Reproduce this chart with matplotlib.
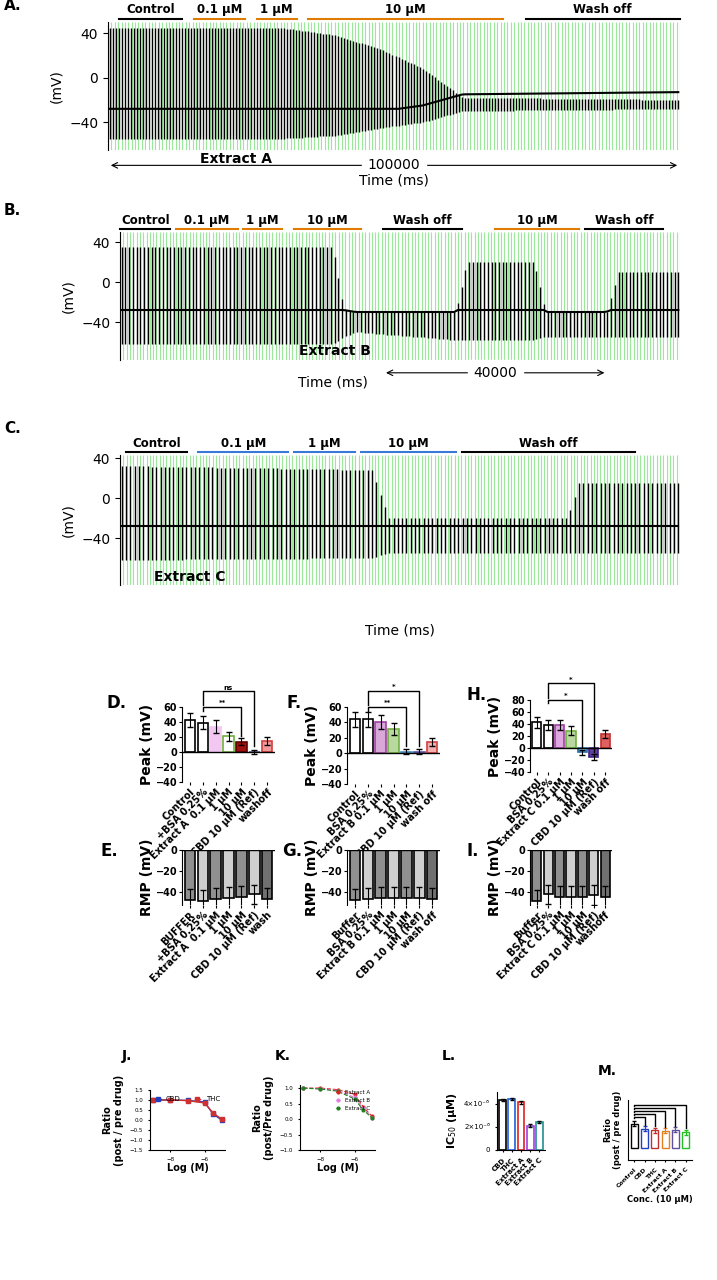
import numpy as np
import matplotlib.pyplot as plt

W, H = 717, 1280
fig = plt.figure(figsize=(W / 100, H / 100), dpi=100)


def ax_at(x0, y0, x1, y1):
    return fig.add_axes([x0 / W, 1 - y1 / H, (x1 - x0) / W, (y1 - y0) / H])


# ---- trace envelopes (fraction of recording, mV) ----
envA_t = [0, 0.30, 0.40, 0.48, 0.55, 0.62, 1.0]
envA_peak = [45, 45, 38, 25, 8, -18, -20]
envA_trough = [-55, -55, -52, -45, -40, -30, -28]
nA = 190

envB_t = [0, 0.38, 0.40, 0.42, 0.60, 0.62, 0.74, 0.76, 0.87, 0.89, 1.0]
envB_peak = [35, 35, -28, -30, -30, 20, 20, -30, -30, 10, 10]
envB_trough = [-62, -62, -55, -50, -58, -58, -58, -55, -55, -55, -55]
nB = 150

envC_t = [0, 0.45, 0.48, 0.80, 0.82, 1.0]
envC_peak = [32, 28, -20, -20, 15, 15]
envC_trough = [-62, -60, -55, -55, -55, -55]
nC = 130

drugsA = [("Control", 0.02, 0.13, "black"), ("0.1 µM", 0.15, 0.24, "#e07b00"),
          ("1 µM", 0.26, 0.33, "#e07b00"), ("10 µM", 0.35, 0.69, "#e07b00"),
          ("Wash off", 0.73, 1.0, "black")]
drugsB = [("Control", 0.0, 0.09, "black"), ("0.1 µM", 0.10, 0.21, "#e07b00"),
          ("1 µM", 0.22, 0.29, "#e07b00"), ("10 µM", 0.31, 0.43, "#e07b00"),
          ("Wash off", 0.47, 0.61, "black"), ("10 µM", 0.67, 0.82, "#e07b00"),
          ("Wash off", 0.83, 0.97, "black")]
drugsC = [("Control", 0.01, 0.12, "black"), ("0.1 µM", 0.14, 0.30, "#3a78d8"),
          ("1 µM", 0.31, 0.42, "#3a78d8"), ("10 µM", 0.43, 0.60, "#3a78d8"),
          ("Wash off", 0.61, 0.92, "black")]


def trace(box, t, pk, tr, n, drugs, ylim, name, name_xy, letter):
    ax = ax_at(*box)
    x = np.linspace(0.003, 0.997, n)
    ax.vlines(np.linspace(0, 1, 170), ylim[0], ylim[1], color="#9be89b", lw=0.8)
    p = np.interp(x, t, pk)
    q = np.interp(x, t, tr)
    ax.vlines(x, q, p, color="black", lw=1.0)
    ax.plot(x, np.maximum(q + 15, np.minimum(p, -28)), color="black", lw=1.5)
    ax.set_xlim(0, 1)
    ax.set_ylim(*ylim)
    ax.set_yticks([40, 0, -40])
    ax.set_xticks([])
    for s in ["top", "right", "bottom"]:
        ax.spines[s].set_visible(False)
    ax.set_ylabel("(mV)", fontsize=10)
    ax.tick_params(labelsize=10)
    for lab, a, b, c in drugs:
        ax.plot([a, b], [ylim[1] + 3, ylim[1] + 3], color=c, lw=1.5, clip_on=False)
        ax.text((a + b) / 2, ylim[1] + 5, lab, ha="center", va="bottom",
                fontsize=8.5, fontweight="bold")
    ax.text(name_xy[0], name_xy[1], name, fontsize=10, fontweight="bold",
            transform=ax.transAxes)
    fig.text(letter[0] / W, 1 - letter[1] / H, letter[2], fontsize=11, fontweight="bold")
    return ax


axA = trace((108, 22, 680, 150), envA_t, envA_peak, envA_trough, nA, drugsA,
            (-65, 50), "Extract A", (0.16, -0.1), (4, 10, "A."))
axA.annotate("", xy=(0.0, -0.12), xytext=(1.0, -0.12), xycoords="axes fraction",
             arrowprops=dict(arrowstyle="<->", lw=0.8))
axA.text(0.5, -0.12, "100000", transform=axA.transAxes, ha="center", va="center",
         fontsize=10, backgroundcolor="white")
axA.text(0.5, -0.27, "Time (ms)", transform=axA.transAxes, ha="center", fontsize=10)

axB = trace((120, 232, 680, 360), envB_t, envB_peak, envB_trough, nB, drugsB,
            (-78, 50), "Extract B", (0.32, 0.04), (4, 215, "B."))
axB.annotate("", xy=(0.47, -0.1), xytext=(0.87, -0.1), xycoords="axes fraction",
             arrowprops=dict(arrowstyle="<->", lw=0.8))
axB.text(0.67, -0.1, "40000", transform=axB.transAxes, ha="center", va="center",
         fontsize=10, backgroundcolor="white")
axB.text(0.38, -0.21, "Time (ms)", transform=axB.transAxes, ha="center", fontsize=10)

axC = trace((120, 455, 680, 585), envC_t, envC_peak, envC_trough, nC, drugsC,
            (-87, 43), "Extract C", (0.06, 0.03), (4, 433, "C."))
axC.text(0.5, -0.38, "Time (ms)", transform=axC.transAxes, ha="center", fontsize=10)

# ---- bar panels ----
labD = ["Control", "+BSA 0.25%", "Extract A  0.1 µM", "1 µM", "10 µM", "CBD 10 µM (Ref)", "washoff"]
labF = ["Control", "BSA 0.25%", "Extract B 0.1 µM", "1 µM", "10 µM", "CBD 10 µM (Ref)", "wash off"]
labH = ["Control", "BSA 0.25%", "Extract C 0.1 µM", "1 µM", "10 µM", "CBD 10 µM (Ref)", "wash off"]
labE = ["BUFFER", "+BSA 0.25%", "Extract A  0.1 µM", "1 µM", "10 µM", "CBD 10 µM (Ref)", "wash"]
labG = ["Buffer", "BSA 0.25%", "Extract B 0.1 µM", "1 µM", "10 µM", "CBD 10 µM (Ref)", "wash off"]
labI = ["Buffer", "BSA 0.25%", "Extract C 0.1 µM", "1 µM", "10 µM", "CBD 10 µM (Ref)", "washoff"]
peakD = [43, 39, 34, 21, 14, 0, 15]
peakF = [44, 44, 40, 31, 2, 2, 14]
peakH = [43, 38, 38, 29, -7, -15, 24]
sigD = ["**", "ns"]
sigF = ["**", "*"]
sigH = ["*", "*"]
rmpE = [-47, -48, -46, -45, -44, -42, -46]
rmpG = [-47, -46, -45, -45, -45, -45, -46]
rmpI = [-48, -42, -44, -44, -44, -43, -44]
peakD_face = ["white", "white", "#f2c8f2", "white", "#a01010", "#d8d0f0", "#f29a9a"]
peakD_edge = ["black", "black", "#f2c8f2", "#70b040", "#600000", "#6050a0", "#d04040"]
peakF_face = ["white", "white", "#d8a8d8", "#b8d8a0", "white", "white", "#f2b0b0"]
peakF_edge = ["black", "black", "#a040a0", "#70b040", "#4090c0", "#6050a0", "#d04040"]
peakH_face = ["white", "white", "#e0a8e0", "#b8d8a0", "#90c0e0", "#6040a0", "#e06060"]
peakH_edge = ["black", "black", "#a040a0", "#70b040", "#2070b0", "#402080", "#c03030"]
rmp_face = ["#909090", "#cfcfcf", "#909090", "#cfcfcf", "#909090", "#cfcfcf", "#707070"]


def bars(box, vals, face, edge, labels, ylim, ticks, ylabel, letter=None):
    ax = ax_at(*box)
    x = np.arange(len(vals))
    ax.bar(x, vals, width=0.8, color=face, edgecolor=edge, linewidth=1.2)
    ax.errorbar(x, vals, yerr=[abs(v) * 0.15 + 3 for v in vals], fmt="none",
                ecolor="black", capsize=2, lw=0.8)
    ax.axhline(0, color="black", lw=1)
    ax.set_ylim(*ylim)
    ax.set_yticks(ticks)
    ax.set_xlim(-0.6, len(vals) - 0.4)
    ax.set_xticks(x)
    ax.set_xticklabels(labels, rotation=45, ha="right", rotation_mode="anchor",
                       fontsize=6.5, fontweight="bold")
    ax.tick_params(labelsize=7, length=2, pad=1.5)
    for t in ax.get_yticklabels():
        t.set_fontweight("bold")
    for s in ["top", "right", "bottom"]:
        ax.spines[s].set_visible(False)
    ax.set_ylabel(ylabel, fontsize=10, fontweight="bold", labelpad=1)
    if letter:
        fig.text(letter[0] / W, 1 - letter[1] / H, letter[2], fontsize=12, fontweight="bold")
    return ax


for box, v, f, e, lab, yl, tk, let, sig in [
    ((182, 707, 275, 782), peakD, peakD_face, peakD_edge, labD, (-40, 60), [60, 40, 20, 0, -20, -40], (106, 708, "D."), sigD),
    ((347, 707, 440, 784), peakF, peakF_face, peakF_edge, labF, (-40, 60), [60, 40, 20, 0, -20, -40], (286, 708, "F."), sigF),
    ((530, 700, 612, 772), peakH, peakH_face, peakH_edge, labH, (-40, 80), [80, 60, 40, 20, 0, -20, -40], (466, 700, "H."), sigH),
]:
    ax = bars(box, v, f, e, lab, yl, tk, "Peak (mV)", let)
    top1 = yl[1] * 1.0
    top2 = yl[1] * 1.35
    ax.plot([1, 1, 4, 4], [top1 - 5, top1, top1, v[4] + 8], color="black", lw=1, clip_on=False)
    ax.plot([1, 1, 5, 5], [yl[1] * 1.05, top2, top2, v[5] + 8], color="black", lw=1, clip_on=False)
    ax.text(2.5, top1 + 1, sig[0], ha="center", va="bottom", fontsize=5, fontweight="bold")
    ax.text(3.0, top2 + 1, sig[1], ha="center", va="bottom", fontsize=5, fontweight="bold")

for box, v, lab, let in [
    ((182, 850, 275, 905), rmpE, labE, (100, 856, "E.")),
    ((347, 850, 440, 905), rmpG, labG, (282, 856, "G.")),
    ((530, 850, 612, 905), rmpI, labI, (466, 856, "I.")),
]:
    ax = bars(box, v, rmp_face, ["black"] * 7, lab, (-52, 0), [0, -20, -40], "RMP (mV)", let)

# ---- bottom row ----
conc_log = [-9, -8, -7, -6, -5.5, -5]
ratio_cbd = [1.0, 1.0, 0.98, 0.9, 0.3, 0.0]
ratio_thc = [1.0, 1.0, 0.97, 0.85, 0.35, 0.05]
ratio_A = [1.0, 1.0, 0.95, 0.8, 0.4, 0.1]
ratio_B = [1.0, 0.98, 0.92, 0.7, 0.35, 0.05]
ratio_C = [1.0, 0.97, 0.9, 0.65, 0.3, 0.05]
ic50_lab = ["CBD", "THC", "Extract A", "Extract B", "Extract C"]
ic50_val = [4.3e-6, 4.4e-6, 4.1e-6, 2.1e-6, 2.4e-6]
ic50_col = ["black", "#2060e0", "#e02020", "#a040e0", "#209090"]
m_lab = ["Control", "CBD", "THC", "Extract A", "Extract B", "Extract C"]
m_val = [0.95, 0.75, 0.7, 0.68, 0.72, 0.62]
m_col = ["black", "#2040c0", "#c03030", "#e08020", "#6050a0", "#20c020"]

axJ = ax_at(150, 1090, 225, 1150)
axJ.plot(conc_log, ratio_cbd, "s-", color="#2040c0", ms=2.5, lw=1, label="CBD")
axJ.plot(conc_log, ratio_thc, "s-", color="#d03030", ms=2.5, lw=1, label="THC")
axJ.set_ylim(-1.5, 1.5)
axJ.set_yticks([1.5, 1.0, 0.5, 0, -0.5, -1.0, -1.5])
axJ.set_xlabel("Log (M)", fontsize=7, fontweight="bold", labelpad=1)
axJ.set_ylabel("Ratio\n(post / pre drug)", fontsize=7, fontweight="bold")
axJ.legend(fontsize=5, frameon=False, ncol=2, loc="upper center", handlelength=0.8)
axJ.tick_params(labelsize=4, length=1.5)
axJ.spines[["top", "right"]].set_visible(False)
fig.text(122 / W, 1 - 1060 / H, "J.", fontsize=10, fontweight="bold")

axK = ax_at(300, 1085, 375, 1150)
for r, c, l in [(ratio_A, "#e02020", "Extract A"), (ratio_B, "#e080e0", "Extract B"), (ratio_C, "#208020", "Extract C")]:
    axK.plot(conc_log, r, "o--", color=c, ms=2, lw=0.8, label=l)
axK.set_ylim(-1.0, 1.1)
axK.set_yticks([1.0, 0.5, 0, -0.5, -1.0])
axK.set_xlabel("Log (M)", fontsize=7, fontweight="bold", labelpad=1)
axK.set_ylabel("Ratio\n(post/Pre drug)", fontsize=7, fontweight="bold")
axK.legend(fontsize=4, frameon=False, loc="upper right", handlelength=0.8)
axK.tick_params(labelsize=4, length=1.5)
axK.spines[["top", "right"]].set_visible(False)
fig.text(275 / W, 1 - 1060 / H, "K.", fontsize=10, fontweight="bold")

axL = ax_at(497, 1092, 545, 1150)
xl = np.arange(len(ic50_val))
axL.bar(xl, ic50_val, color="white", edgecolor=ic50_col, lw=1.2, width=0.75)
axL.errorbar(xl, ic50_val, yerr=1e-7, fmt="none", ecolor="black", capsize=1.5, lw=0.8)
axL.set_ylim(0, 5e-6)
axL.set_yticks([0, 2e-6, 4e-6])
axL.set_yticklabels(["0", "2×10⁻⁶", "4×10⁻⁶"], fontsize=5)
axL.set_xticks(xl)
axL.set_xticklabels(ic50_lab, rotation=45, ha="right", rotation_mode="anchor",
                    fontsize=5, fontweight="bold")
axL.set_ylabel("IC$_{50}$ (µM)", fontsize=8, fontweight="bold")
axL.spines[["top", "right"]].set_visible(False)
axL.tick_params(length=1.5)
fig.text(442 / W, 1 - 1060 / H, "L.", fontsize=10, fontweight="bold")

axM = ax_at(628, 1100, 692, 1160)
xm = np.arange(len(m_val))
axM.bar(xm, m_val, color="white", edgecolor=m_col, lw=1, width=0.7)
for i in range(len(m_val)):
    axM.errorbar(xm[i], m_val[i], yerr=0.1, fmt="none", ecolor=m_col[i], capsize=1.5, lw=0.8)
for i in range(1, 6):
    top = 1.1 + 0.12 * i
    axM.plot([0, 0, i, i], [top - 0.05, top, top, m_val[i] + 0.15], color="black", lw=1)
axM.set_ylim(-0.5, 1.9)
axM.set_yticks([])
axM.set_xticks(xm)
axM.set_xticklabels(m_lab, rotation=45, ha="right", rotation_mode="anchor",
                    fontsize=4.5, fontweight="bold")
axM.set_xlabel("Conc. (10 µM)", fontsize=6, fontweight="bold", labelpad=1)
axM.set_ylabel("Ratio\n(post / pre drug)", fontsize=6, fontweight="bold")
axM.spines[["top", "right"]].set_visible(False)
axM.tick_params(length=1.5)
fig.text(598 / W, 1 - 1075 / H, "M.", fontsize=10, fontweight="bold")

fig.savefig("out.png", dpi=100)
